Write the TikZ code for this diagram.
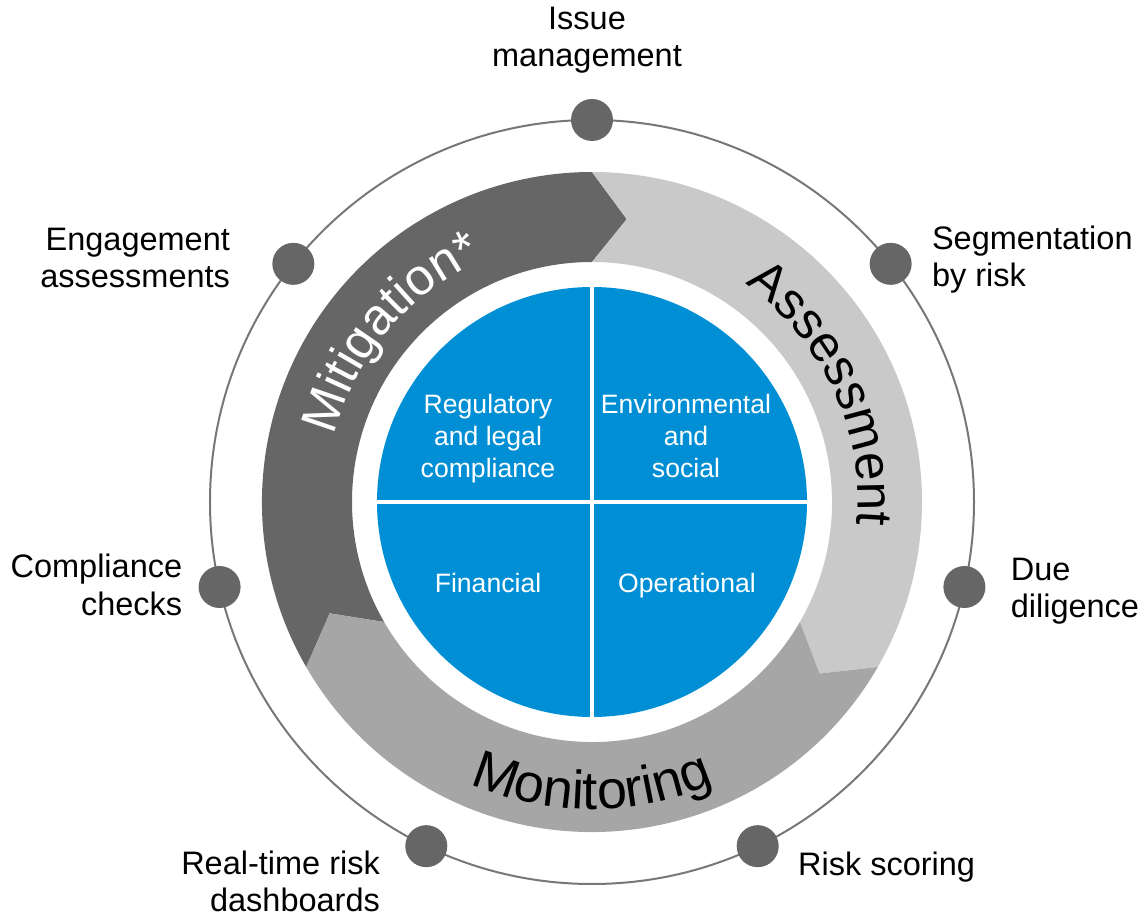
\documentclass[tikz,border=0pt]{standalone}
\usepackage{fontspec}
\setmainfont{Liberation Sans}
\usetikzlibrary{positioning,decorations.text}

\definecolor{mitigray}{HTML}{666666}
\definecolor{assessgray}{HTML}{C9C9C9}
\definecolor{monitgray}{HTML}{A6A6A6}
\definecolor{riskblue}{HTML}{008FD4}
\definecolor{dotgray}{HTML}{666666}
\definecolor{linegray}{HTML}{777777}

\newcommand\lblfont{\fontsize{32.5}{37.5}\selectfont}
\newcommand\quadfont{\fontsize{26.6}{32}\selectfont}
\newcommand\bandfont{\fontsize{51}{57}\selectfont}
\newcommand\monfont{\fontsize{54}{60}\selectfont}

\begin{document}
\begin{tikzpicture}[x=1pt,y=1pt,
dot/.style={circle,fill=dotgray,minimum size=42pt,inner sep=0},
lbl/.style={font=\lblfont,inner sep=0},
quad/.style={font=\quadfont,text=white,align=center,inner sep=0},
band/.style={decorate,decoration={text along path,text align=center,text={#1}}}]

\useasboundingbox (-592,-415) rectangle (550,502);

% thin outer ring
\draw[linegray,line width=2pt] (0,0) circle[radius=382];

% the three arrow bands
\foreach \s/\col in {210/mitigray,90/assessgray,-30/monitgray}
  \fill[\col] (\s:330) arc[start angle=\s,end angle=\s-120,radius=330]
    -- ({\s-127}:285) -- ({\s-120}:240)
    arc[start angle=\s-120,end angle=\s,radius=240]
    -- ({\s-7}:285) -- cycle;

% blue disc in four parts
\fill[riskblue] (0,0) circle[radius=215];
\draw[white,line width=4pt] (0,-215) -- (0,215) (-215,0) -- (215,0);

\node[quad] (reg) at (-104,63.6) {Regulatory\\and legal\\compliance};
\node[quad] (env) at (94,66.3) {Environmental\\and\\social};
\node[quad,anchor=base] (fin) at (-104,-91) {Financial};
\node[quad,anchor=base] (ops) at (95,-91) {Operational};

% band titles
\path[band={|\bandfont\color{white}|Mitigation*}]
  (190:266) arc[start angle=190,end angle=90,radius=266];
\path[band={|\bandfont|Assessment}]
  (80:266) arc[start angle=80,end angle=-30,radius=266];
\path[band={|\monfont|Monitoring}]
  (-150:307) arc[start angle=-150,end angle=-30,radius=307];

% dots on the outer ring
\node[dot] (issue) at (90:382) {};
\node[dot] (seg) at (38.57:382) {};
\node[dot] (due) at (-12.86:382) {};
\node[dot] (score) at (-64.29:382) {};
\node[dot] (dash) at (-115.71:382) {};
\node[dot] (checks) at (-167.14:382) {};
\node[dot] (engage) at (141.43:382) {};

\node[lbl,above=25pt of issue,xshift=-5pt,align=center] (issuetxt) {Issue\\management};
\node[lbl,right=20pt of seg,yshift=4pt,align=left] (segtxt) {Segmentation\\by risk};
\node[lbl,right=25pt of due,yshift=-4pt,align=left] (duetxt) {Due\\diligence};
\node[lbl,right=19pt of score,yshift=-21pt] (scoretxt) {Risk scoring};
\node[lbl,left=25pt of dash,yshift=-35pt,align=right] (dashtxt) {Real-time risk\\dashboards};
\node[lbl,left=16pt of checks,yshift=2pt,align=right] (checkstxt) {Compliance\\checks};
\node[lbl,left=42pt of engage,yshift=6pt,align=right] (engagetxt) {Engagement\\assessments};

\end{tikzpicture}
\end{document}
